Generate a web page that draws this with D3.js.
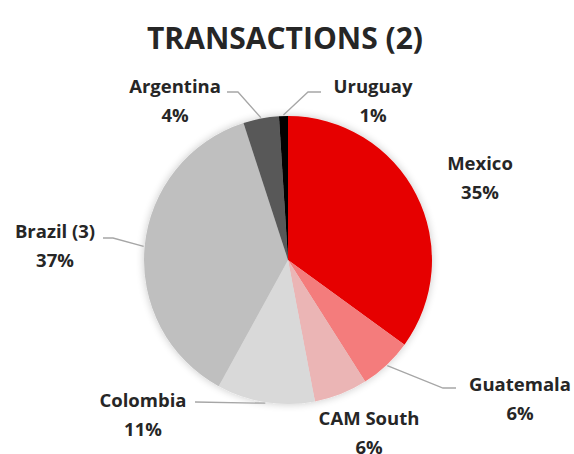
<!DOCTYPE html>
<html>
  <head>
    <meta charset="UTF-8" />
    <script src="https://d3js.org/d3.v7.min.js"></script>
    <style>
      body { margin: 0; background: #fff; }
      text { font-family: "Open Sans", Lato, sans-serif; font-weight: bold; fill: #262626; }
    </style>
  </head>
  <body>
    <div id="my_dataviz"></div>

    <script>
      var width = 574,
        height = 454;

      // data
      const countries = ["Mexico", "Guatemala", "CAM South", "Colombia", "Brazil (3)", "Argentina", "Uruguay"];
      const shares = [35, 6, 6, 11, 37, 4, 1];
      const colors = ["#e60000", "#f47b7b", "#ebb5b5", "#d9d9d9", "#bfbfbf", "#595959", "#000000"];

      // label layout: centre of the name line, and the leader elbow (null = no line)
      const labelAt = {
        "Mexico": { x: 480, y: 170, elbow: null },
        "Guatemala": { x: 520, y: 391, elbow: [443, 388], end: [456, 388] },
        "CAM South": { x: 369, y: 425, elbow: null },
        "Colombia": { x: 143, y: 407, elbow: null, end: [195, 402] },
        "Brazil (3)": { x: 55, y: 238, elbow: [113, 238], end: [103, 238] },
        "Argentina": { x: 175, y: 93, elbow: [238, 92], end: [227, 92] },
        "Uruguay": { x: 373, y: 93, elbow: [308, 92], end: [321, 92] },
      };

      var cx = 288, cy = 260, radius = 144;

      var svg = d3
        .select("#my_dataviz")
        .append("svg")
        .attr("width", width)
        .attr("height", height);

      // soft shadow like the office chart
      var defs = svg.append("defs");
      var f = defs.append("filter").attr("id", "shadow")
        .attr("x", "-20%").attr("y", "-20%").attr("width", "140%").attr("height", "140%");
      f.append("feGaussianBlur").attr("in", "SourceAlpha").attr("stdDeviation", 4);
      f.append("feComponentTransfer").append("feFuncA").attr("type", "linear").attr("slope", 0.22);
      var m = f.append("feMerge");
      m.append("feMergeNode");
      m.append("feMergeNode").attr("in", "SourceGraphic");

      svg.append("text")
        .attr("x", 285)
        .attr("y", 49)
        .attr("text-anchor", "middle")
        .style("font-size", "30px")
        .text("TRANSACTIONS (2)");

      var data = countries.map((c, i) => ({ name: c, value: shares[i], color: colors[i] }));

      var pie = d3.pie().sort(null).value(d => d.value);
      var arc = d3.arc().innerRadius(0).outerRadius(radius);
      var arcs = pie(data);

      var g = svg.append("g").attr("transform", `translate(${cx},${cy})`);

      g.append("g")
        .attr("filter", "url(#shadow)")
        .selectAll("path")
        .data(arcs)
        .join("path")
        .attr("d", arc)
        .attr("fill", d => d.data.color);

      // leader lines
      svg.append("g")
        .selectAll("polyline")
        .data(arcs.filter(d => labelAt[d.data.name].end))
        .join("polyline")
        .attr("fill", "none")
        .attr("stroke", "#a6a6a6")
        .attr("stroke-width", 1.3)
        .attr("points", d => {
          var L = labelAt[d.data.name];
          var a = (d.startAngle + d.endAngle) / 2;
          var p = [cx + Math.sin(a) * (radius + 1), cy - Math.cos(a) * (radius + 1)];
          var pts = [L.end];
          if (L.elbow) pts.push(L.elbow);
          pts.push(p);
          return pts.map(q => q.join(",")).join(" ");
        });

      // labels
      var lab = svg.append("g")
        .selectAll("text")
        .data(arcs)
        .join("text")
        .attr("text-anchor", "middle")
        .style("font-size", "18.5px")
        .attr("x", d => labelAt[d.data.name].x)
        .attr("y", d => labelAt[d.data.name].y);
      lab.append("tspan").text(d => d.data.name);
      lab.append("tspan")
        .attr("x", d => labelAt[d.data.name].x)
        .attr("dy", 29)
        .text(d => d.data.value + "%");
    </script>
  </body>
</html>
